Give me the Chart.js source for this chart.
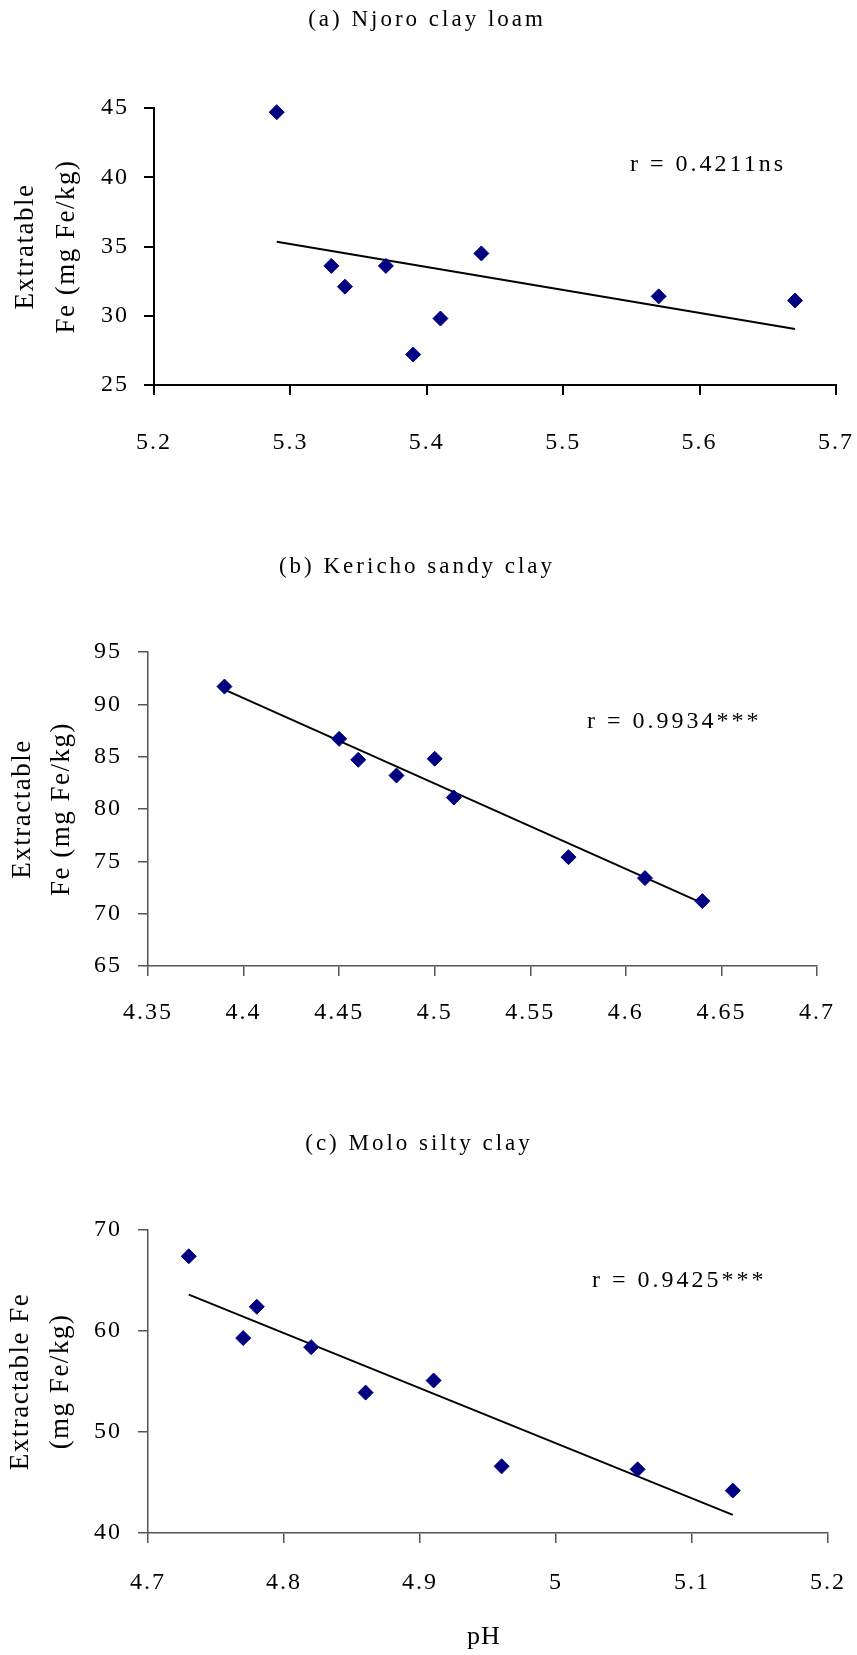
<!DOCTYPE html>
<html>
<head>
<meta charset="utf-8">
<script src="https://cdn.jsdelivr.net/npm/chart.js@4.4.1/dist/chart.umd.min.js"></script>
<style>
html, body { margin:0; padding:0; background:#fff; }
body { width:857px; height:1655px; position:relative; overflow:hidden; }
.panel { position:absolute; left:0; width:857px; }
canvas { display:block; }
</style>
</head>
<body>
<div class="panel" style="top:0px"><canvas id="chart-a" width="857" height="470"></canvas></div>
<div class="panel" style="top:540px"><canvas id="chart-b" width="857" height="500"></canvas></div>
<div class="panel" style="top:1080px"><canvas id="chart-c" width="857" height="575"></canvas></div>
<script>
/* ---------- Data ---------- */
// (a) Njoro clay loam
const phNjoro = [5.29, 5.33, 5.34, 5.37, 5.39, 5.41, 5.44, 5.57, 5.67];
const feNjoro = [44.7, 33.6, 32.1, 33.6, 27.2, 29.8, 34.5, 31.4, 31.1];
const fitPhNjoro = [5.29, 5.67];
const fitFeNjoro = [35.35, 29.05];
const xTicksNjoro = [5.2, 5.3, 5.4, 5.5, 5.6, 5.7];
const yTicksNjoro = [25, 30, 35, 40, 45];

// (b) Kericho sandy clay
const phKericho = [4.39, 4.45, 4.46, 4.48, 4.50, 4.51, 4.57, 4.61, 4.64];
const feKericho = [91.7, 86.7, 84.7, 83.2, 84.8, 81.1, 75.4, 73.4, 71.2];
const fitPhKericho = [4.39, 4.64];
const fitFeKericho = [91.4, 71.0];
const xTicksKericho = [4.35, 4.4, 4.45, 4.5, 4.55, 4.6, 4.65, 4.7];
const yTicksKericho = [65, 70, 75, 80, 85, 90, 95];

// (c) Molo silty clay
const phMolo = [4.73, 4.77, 4.78, 4.82, 4.86, 4.91, 4.96, 5.06, 5.13];
const feMolo = [67.4, 59.3, 62.4, 58.4, 53.9, 55.1, 46.6, 46.3, 44.2];
const fitPhMolo = [4.73, 5.13];
const fitFeMolo = [63.6, 41.8];
const xTicksMolo = [4.7, 4.8, 4.9, 5, 5.1, 5.2];
const yTicksMolo = [40, 50, 60, 70];

const SERIF = '"Liberation Serif", "Times New Roman", serif';
const PAGE_W = 857;

function drawText(ctx, text, x, y, size, spacing, align, baseline){
  ctx.font = size + 'px ' + SERIF;
  ctx.letterSpacing = spacing + 'px';
  ctx.textAlign = align || 'center';
  ctx.textBaseline = baseline || 'middle';
  ctx.fillStyle = '#000';
  ctx.fillText(text, x, y);
}

// titles, r value, rotated y title and the pH label are drawn here
function panelText(p){
  return {
    id: 'panelText',
    beforeDraw(chart){ chart.ctx.letterSpacing = '2px'; },
    afterDraw(chart){
      const ctx = chart.ctx;
      const area = chart.chartArea;
      ctx.save();
      drawText(ctx, p.title, p.titleX, p.titleY, 23, 3);
      drawText(ctx, p.note, p.noteX, p.noteY, 24, 3, 'left');
      const midY = (area.top + area.bottom) / 2;
      p.yLines.forEach((line, i) => {
        ctx.save();
        ctx.translate(p.yBase[i], midY);
        ctx.rotate(-Math.PI / 2);
        drawText(ctx, line, 0, 0, 27, 1.5, 'center', 'alphabetic');
        ctx.restore();
      });
      if (p.xTitle) drawText(ctx, p.xTitle, p.xTitleX, p.xTitleY, 26, 1);
      ctx.restore();
      ctx.letterSpacing = '0px';
    }
  };
}

function makePanel(id, p){
  const canvas = document.getElementById(id);
  const H = canvas.height;
  const points = p.x.map((v, i) => ({ x: v, y: p.y[i] }));
  const fit = p.fitX.map((v, i) => ({ x: v, y: p.fitY[i] }));
  const tickFont = { family: SERIF, size: 24 };
  return new Chart(canvas, {
    type: 'scatter',
    data: {
      datasets: [
        { data: points, pointStyle: 'rectRot', pointRadius: 7.5, pointHoverRadius: 7.5,
          pointBackgroundColor: '#000080', pointBorderColor: '#000080', pointBorderWidth: 1,
          showLine: false, clip: false },
        { data: fit, showLine: true, borderColor: '#000', borderWidth: 2,
          pointRadius: 0, fill: false, clip: false }
      ]
    },
    options: {
      responsive: false,
      animation: false,
      layout: { padding: { left: 0, top: p.area.top, right: PAGE_W - p.area.right, bottom: 0 } },
      plugins: { legend: { display: false }, tooltip: { enabled: false } },
      scales: {
        x: {
          type: 'linear',
          min: p.xTicks[0], max: p.xTicks[p.xTicks.length - 1],
          afterBuildTicks: s => { s.ticks = p.xTicks.map(v => ({ value: v })); },
          afterFit: s => { s.height = H - p.area.bottom; s.paddingLeft = 0; s.paddingRight = 0; },
          ticks: { callback: v => String(+v.toFixed(2)), color: '#000', font: tickFont,
                   padding: p.xPad, maxRotation: 0, autoSkip: false },
          grid: { display: true, drawOnChartArea: false, drawTicks: true, tickLength: 10,
                  color: p.axisColor, lineWidth: p.axisWidth },
          border: { display: true, color: p.axisColor, width: p.axisWidth }
        },
        y: {
          type: 'linear',
          min: p.yTicks[0], max: p.yTicks[p.yTicks.length - 1],
          afterBuildTicks: s => { s.ticks = p.yTicks.map(v => ({ value: v })); },
          afterFit: s => { s.width = p.area.left; s.paddingTop = 0; s.paddingBottom = 0; },
          ticks: { callback: v => String(v), color: '#000', font: tickFont, padding: p.yPad, autoSkip: false },
          grid: { display: true, drawOnChartArea: false, drawTicks: true, tickLength: 10,
                  color: p.axisColor, lineWidth: p.axisWidth },
          border: { display: true, color: p.axisColor, width: p.axisWidth }
        }
      }
    },
    plugins: [panelText(p)]
  });
}

makePanel('chart-a', {
  x: phNjoro, y: feNjoro, fitX: fitPhNjoro, fitY: fitFeNjoro,
  xTicks: xTicksNjoro, yTicks: yTicksNjoro,
  area: { left: 154, right: 836, top: 108, bottom: 385 },
  xPad: 33, yPad: 15, axisColor: '#000', axisWidth: 2,
  title: '(a) Njoro clay loam', titleX: 427, titleY: 20,
  note: 'r = 0.4211ns', noteX: 630, noteY: 165,
  yLines: ['Extratable', 'Fe (mg Fe/kg)'], yBase: [33, 74]
});

makePanel('chart-b', {
  x: phKericho, y: feKericho, fitX: fitPhKericho, fitY: fitFeKericho,
  xTicks: xTicksKericho, yTicks: yTicksKericho,
  area: { left: 148, right: 817, top: 112, bottom: 426 },
  xPad: 22, yPad: 16, axisColor: '#555', axisWidth: 1.5,
  title: '(b) Kericho sandy clay', titleX: 417, titleY: 27,
  note: 'r = 0.9934***', noteX: 587, noteY: 182,
  yLines: ['Extractable', 'Fe (mg Fe/kg)'], yBase: [30, 69]
});

makePanel('chart-c', {
  x: phMolo, y: feMolo, fitX: fitPhMolo, fitY: fitFeMolo,
  xTicks: xTicksMolo, yTicks: yTicksMolo,
  area: { left: 148, right: 828, top: 150, bottom: 453 },
  xPad: 25, yPad: 16, axisColor: '#555', axisWidth: 1.5,
  title: '(c) Molo silty clay', titleX: 419, titleY: 64,
  note: 'r = 0.9425***', noteX: 592, noteY: 201,
  yLines: ['Extractable Fe', '(mg Fe/kg)'], yBase: [28, 68],
  xTitle: 'pH', xTitleX: 484, xTitleY: 557
});
</script>
</body>
</html>
